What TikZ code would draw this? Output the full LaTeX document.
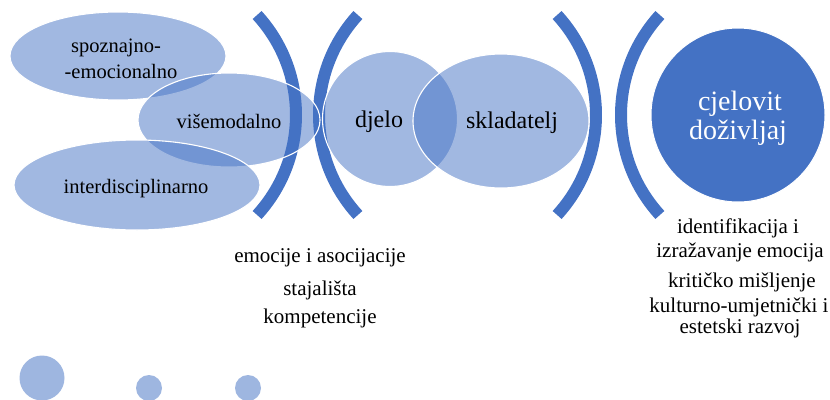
\documentclass[tikz,border=0pt]{standalone}
\usepackage{fontspec}
\setmainfont{Liberation Serif}
\newfontfamily\tnr{Liberation Serif}
\usetikzlibrary{shapes.geometric}
\definecolor{obl}{RGB}{68,114,196}
\begin{document}
\begin{tikzpicture}[x=1pt,y=-1pt,
  bracketarc/.style={draw=obl,line width=12pt,line cap=butt},
  lightell/.style={ellipse,draw=white,line width=1.1pt,fill=obl,fill opacity=0.5,draw opacity=1,inner sep=0pt},
  lbl/.style={anchor=base,inner sep=0pt,font=\tnr\fontsize{20.5}{24}\selectfont},
  big/.style={anchor=base,inner sep=0pt,font=\tnr\fontsize{24}{28}\selectfont},
  bot/.style={anchor=base,inner sep=0pt,font=\tnr\fontsize{21}{24}\selectfont},
  wht/.style={anchor=base,inner sep=0pt,text=white,font=\tnr\fontsize{28}{32}\selectfont},
  dot/.style={circle,fill=obl!52,inner sep=0pt}]
\useasboundingbox (0,0) rectangle (830,399);
% brackets
\draw[bracketarc] ([shift={(-42.5:148)}]148,115) arc[start angle=-42.5,end angle=42.5,radius=148];
\draw[bracketarc] ([shift={(137.5:148)}]467,115) arc[start angle=137.5,end angle=222.5,radius=148];
\draw[bracketarc] ([shift={(-42.5:148)}]448,115) arc[start angle=-42.5,end angle=42.5,radius=148];
\draw[bracketarc] ([shift={(137.5:148)}]769,115) arc[start angle=137.5,end angle=222.5,radius=148];
% left ellipses
\node[lightell,minimum width=216pt,minimum height=88pt] (spo) at (118,56) {};
\node[lightell,minimum width=182pt,minimum height=94pt] (vis) at (229,120) {};
\node[lightell,minimum width=246pt,minimum height=90pt] (int) at (137,185) {};
% middle
\node[lightell,minimum width=135pt,minimum height=135pt] (dje) at (390,119) {};
\node[lightell,minimum width=176pt,minimum height=134pt] (skl) at (501,121) {};
% big circle
\node[circle,fill=obl,draw=white,line width=1pt,minimum size=174pt,inner sep=0pt] (cje) at (738,115) {};
% labels
\node[lbl] (t1) at (116,52) {spoznajno-};
\node[lbl] (t2) at (121,78) {-emocionalno};
\node[lbl] (t3) at (229,128) {višemodalno};
\node[lbl] (t4) at (136,193) {interdisciplinarno};
\node[big] (t5) at (379,127) {djelo};
\node[big] (t6) at (512,128) {skladatelj};
\node[wht] (t7) at (740,110) {cjelovit};
\node[wht] (t8) at (738,139) {doživljaj};
% bottom left texts
\node[bot] (b1) at (320,262) {emocije i asocijacije};
\node[bot] (b2) at (320,295) {stajališta};
\node[bot] (b3) at (320,323) {kompetencije};
% right texts
\node[bot] (r1) at (738,233) {identifikacija i};
\node[bot] (r2) at (740,257) {izražavanje emocija};
\node[bot] (r3) at (742,287) {kritičko mišljenje};
\node[bot] (r4) at (739,312) {kulturno-umjetnički i};
\node[bot] (r5) at (740,333) {estetski razvoj};
% dots
\node[dot,minimum size=45pt] (d1) at (42,378) {};
\node[dot,minimum size=26pt] (d2) at (149,388) {};
\node[dot,minimum size=26pt] (d3) at (248,388) {};
\end{tikzpicture}
\end{document}
